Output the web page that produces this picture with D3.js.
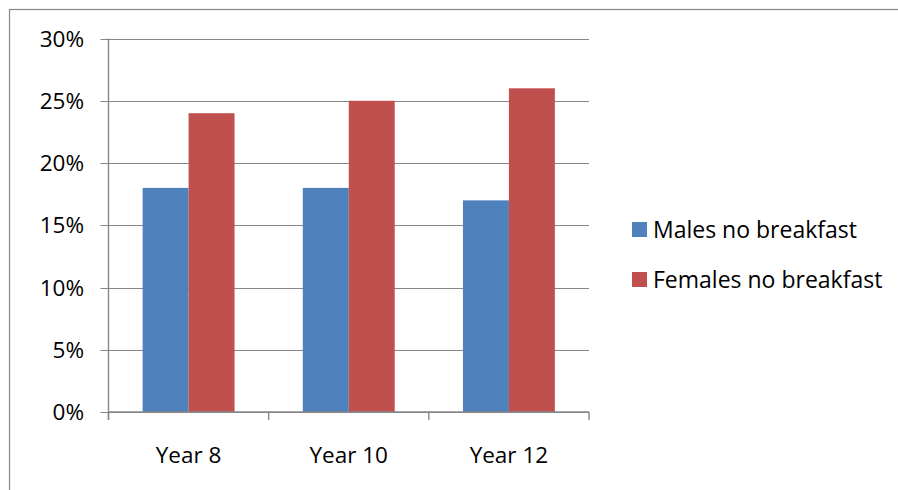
<!DOCTYPE html>
<html>
<head>
<meta charset="utf-8">
<script src="https://cdn.jsdelivr.net/npm/d3@7"></script>
<style>
  body { margin: 0; background: #fff; }
  text { font-family: "Open Sans", Lato, sans-serif; fill: #000; }
</style>
</head>
<body>
<div id="chart"></div>
<script>
var categories = ["Year 8", "Year 10", "Year 12"];
var seriesNames = ["Males no breakfast", "Females no breakfast"];
var males = [18, 18, 17];
var females = [24, 25, 26];
var yTicks = [0, 5, 10, 15, 20, 25, 30];
var colors = ["#4F81BD", "#C0504D"];

var svgWidth = 898;
var svgHeight = 490;

var margin = { top: 38.5, left: 108.5, right: 309, bottom: 78 };
var plotRight = svgWidth - margin.right;
var plotBottom = svgHeight - margin.bottom;

var svg = d3.select("#chart")
  .append("svg")
  .attr("width", svgWidth)
  .attr("height", svgHeight);

// outer chart border (runs off the right and bottom edges)
svg.append("rect")
  .attr("x", 9.5)
  .attr("y", 9.5)
  .attr("width", 900)
  .attr("height", 500)
  .attr("fill", "none")
  .attr("stroke", "#888")
  .attr("stroke-width", 1.2);

var y = d3.scaleLinear()
  .domain([0, 30])
  .range([plotBottom, margin.top]);

var x0 = d3.scaleBand()
  .domain(categories)
  .range([margin.left, plotRight])
  .paddingInner(0.426)
  .paddingOuter(0.213);

var x1 = d3.scaleBand()
  .domain(seriesNames)
  .range([0, x0.bandwidth()]);

var rows = categories.map(function(c, i) {
  return { cat: c, values: [males[i], females[i]] };
});

// gridlines with left ticks
svg.append("g")
  .selectAll("line")
  .data(yTicks)
  .enter()
  .append("line")
  .attr("x1", margin.left - 8)
  .attr("x2", plotRight)
  .attr("y1", d => Math.round(y(d)) + 0.5)
  .attr("y2", d => Math.round(y(d)) + 0.5)
  .attr("stroke", "#878787")
  .attr("stroke-width", 1.2);

// y labels
svg.append("g")
  .selectAll("text")
  .data(yTicks)
  .enter()
  .append("text")
  .attr("x", 84)
  .attr("y", d => y(d) + 8)
  .attr("text-anchor", "end")
  .attr("font-size", 22.5)
  .text(d => d + "%");

// bars
var groups = svg.append("g")
  .selectAll("g")
  .data(rows)
  .enter()
  .append("g")
  .attr("transform", d => `translate(${x0(d.cat)},0)`);

groups.selectAll("rect")
  .data(d => d.values.map((v, i) => ({ key: seriesNames[i], value: v, i: i })))
  .enter()
  .append("rect")
  .attr("x", d => x1(d.key))
  .attr("y", d => y(d.value))
  .attr("width", x1.bandwidth())
  .attr("height", d => plotBottom - y(d.value))
  .attr("fill", d => colors[d.i]);

// y axis line
svg.append("line")
  .attr("x1", margin.left)
  .attr("x2", margin.left)
  .attr("y1", margin.top)
  .attr("y2", plotBottom + 8)
  .attr("stroke", "#878787")
  .attr("stroke-width", 1.4);

// x axis line and category boundary ticks
svg.append("line")
  .attr("x1", margin.left)
  .attr("x2", plotRight)
  .attr("y1", plotBottom)
  .attr("y2", plotBottom)
  .attr("stroke", "#878787")
  .attr("stroke-width", 1.4);

var step = x0.step();
var boundaries = d3.range(categories.length + 1).map(i => margin.left + i * step);
svg.append("g")
  .selectAll("line")
  .data(boundaries)
  .enter()
  .append("line")
  .attr("x1", d => d)
  .attr("x2", d => d)
  .attr("y1", plotBottom)
  .attr("y2", plotBottom + 8)
  .attr("stroke", "#878787")
  .attr("stroke-width", 1.4);

// category labels
svg.append("g")
  .selectAll("text")
  .data(categories)
  .enter()
  .append("text")
  .attr("x", d => x0(d) + x0.bandwidth() / 2)
  .attr("y", 463)
  .attr("text-anchor", "middle")
  .attr("font-size", 22.5)
  .text(d => d);

// legend
var legend = svg.append("g")
  .selectAll("g")
  .data(seriesNames)
  .enter()
  .append("g")
  .attr("transform", (d, i) => `translate(632, ${222 + i * 50})`);

legend.append("rect")
  .attr("width", 15)
  .attr("height", 15)
  .attr("fill", (d, i) => colors[i]);

legend.append("text")
  .attr("x", 21)
  .attr("y", 16)
  .attr("font-size", 23)
  .text(d => d);
</script>
</body>
</html>
